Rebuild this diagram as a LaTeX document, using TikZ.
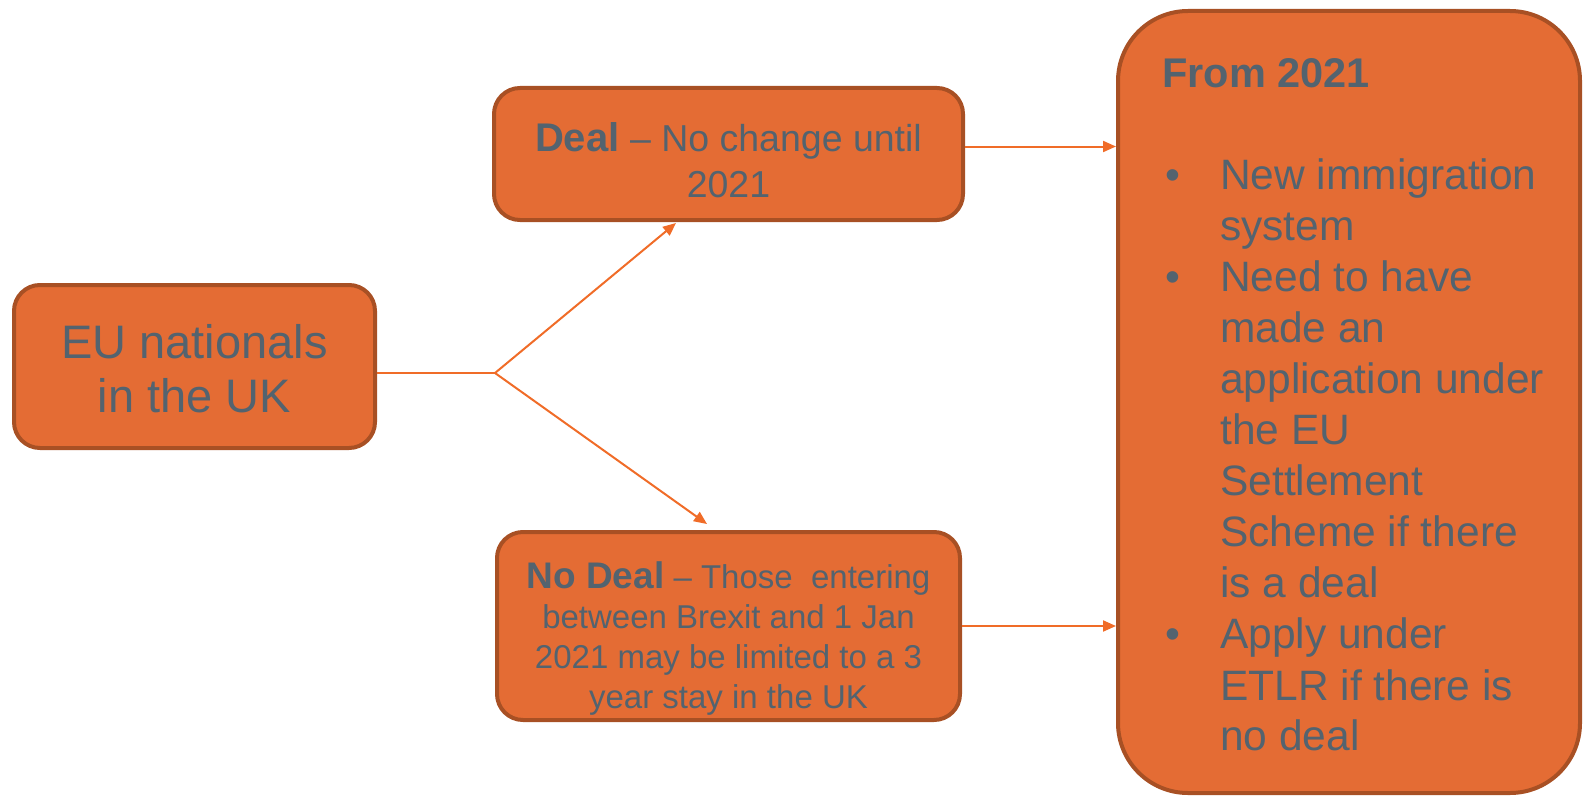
\documentclass[tikz,border=0pt]{standalone}
\usepackage{fontspec}
\setmainfont{Liberation Sans}
\usetikzlibrary{arrows.meta}
\definecolor{boxfill}{RGB}{228,108,52}
\definecolor{boxdraw}{RGB}{168,80,36}
\definecolor{txt}{RGB}{83,99,111}
\definecolor{conn}{RGB}{240,108,40}
\begin{document}
\begin{tikzpicture}[x=1pt,y=-1pt,
  box/.style={draw=boxdraw, line width=4pt, fill=boxfill, rounded corners=26pt, inner sep=0pt},
  boxtext/.style={text=txt, align=center, inner sep=0pt},
  link/.style={draw=conn, line width=2pt},
  arr/.style={link, -{Triangle[length=13pt,width=11pt]}}]
\useasboundingbox (0,0) rectangle (1584,797);

% boxes
\node[box, minimum width=361pt, minimum height=163pt] (eu) at (194.5,366.5) {};
\node[box, minimum width=469pt, minimum height=132pt] (deal) at (728.5,154) {};
\node[box, minimum width=463pt, minimum height=188pt] (nodeal) at (728.5,626) {};
\node[box, rounded corners=70pt, minimum width=462pt, minimum height=782pt] (right) at (1349,402) {};

% texts
\node[boxtext, font={\fontsize{47}{54}\selectfont}] (eutext) at (194.5,369)
  {EU nationals\\in the UK};
\node[boxtext, font={\fontsize{37.5}{46.5}\selectfont}] (dealtext) at (728.5,160)
  {{\fontsize{40}{46.5}\selectfont\bfseries Deal} -- No change until\\2021};
\node[boxtext, font={\fontsize{33}{40}\selectfont}] (nodealtext) at (728.5,639)
  {{\fontsize{37}{40}\selectfont\bfseries No Deal} -- Those\ \ entering\\
   between Brexit and 1 Jan\\2021 may be limited to a 3\\year stay in the UK};
\node[text=txt, inner sep=0pt, anchor=base west, font={\fontsize{42.5}{51}\selectfont}] (righttext) at (1162,88)
  {\begin{tabular}[t]{@{}p{58pt}@{}l@{}}
   \multicolumn{2}{@{}l}{\fontsize{41.5}{51}\selectfont\bfseries From 2021}\\
   \\
   \hspace{3pt}\textbullet & New immigration\\
   & system\\
   \hspace{3pt}\textbullet & Need to have\\
   & made an\\
   & application under\\
   & the EU\\
   & Settlement\\
   & Scheme if there\\
   & is a deal\\
   \hspace{3pt}\textbullet & Apply under\\
   & ETLR if there is\\
   & no deal
   \end{tabular}};

% connectors
\coordinate (j) at (495,373);
\coordinate (dealin) at (676,223);
\coordinate (ndin) at (707,524);
\coordinate (r1) at (0,146.5);
\coordinate (r2) at (0,626);
\draw[link] (eu.east |- j) -- (j);
\draw[arr] (j) -- (dealin);
\draw[arr] (j) -- (ndin);
\draw[arr] (deal.east |- r1) -- (right.west |- r1);
\draw[arr] (nodeal.east |- r2) -- (right.west |- r2);
\end{tikzpicture}
\end{document}
